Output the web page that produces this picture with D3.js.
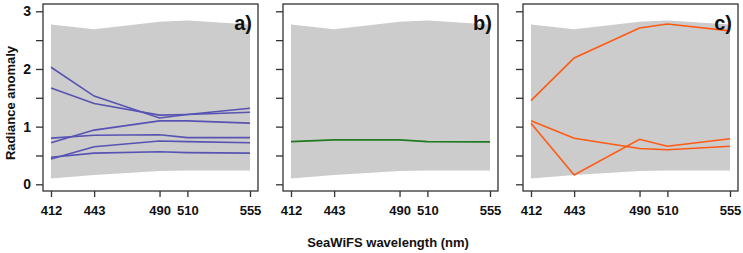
<!DOCTYPE html>
<html><head><meta charset="utf-8">
<script src="https://cdn.jsdelivr.net/npm/d3@7"></script>
<style>body{margin:0;background:#fff}svg{display:block}text{font-family:"Liberation Sans",Arial,sans-serif;font-weight:bold;fill:#111}</style>
</head><body>
<svg id="c" width="743" height="253"></svg>
<script>
const wavelengths = [412, 443, 490, 510, 555];
const envelopeTop = [2.77, 2.69, 2.82, 2.84, 2.77];
const envelopeBottom = [0.10, 0.16, 0.23, 0.24, 0.24];
const seriesA = [
  [2.03, 1.53, 1.15, 1.21, 1.32],
  [1.67, 1.40, 1.20, 1.21, 1.25],
  [0.72, 0.94, 1.10, 1.10, 1.06],
  [0.80, 0.85, 0.86, 0.81, 0.81],
  [0.44, 0.65, 0.75, 0.74, 0.72],
  [0.47, 0.54, 0.565, 0.55, 0.54]
];
const seriesB = [
  [0.74, 0.77, 0.77, 0.74, 0.735]
];
const seriesC = [
  [1.45, 2.19, 2.71, 2.78, 2.66],
  [1.10, 0.80, 0.62, 0.60, 0.66],
  [1.06, 0.16, 0.78, 0.66, 0.79]
];
const panelLabels = ["a)", "b)", "c)"];
const yTicks = [0, 0.5, 1, 1.5, 2, 2.5, 3];
const yTickLabels = [0, 1, 2, 3];

const panels = [
  {series: seriesA, color: "#5753b3", label: panelLabels[0]},
  {series: seriesB, color: "#1f7a1f", label: panelLabels[1]},
  {series: seriesC, color: "#ff5a14", label: panelLabels[2]}
];

const svg = d3.select("#c");
const boxTop = 4, boxBottom = 191, boxW = 215, step = 240, left0 = 43;
const y = d3.scaleLinear().domain([0, 3]).range([184.3, 11.3]);

panels.forEach((p, i) => {
  const bx = left0 + i * step;
  const x = d3.scaleLinear().domain([412, 555]).range([bx + 8, bx + 207]);
  const g = svg.append("g");
  const area = d3.area().x((d, j) => x(wavelengths[j])).y0((d, j) => y(envelopeBottom[j])).y1(d => y(d));
  g.append("path").datum(envelopeTop).attr("d", area).attr("fill", "#cccccc");
  const line = d3.line().x((d, j) => x(wavelengths[j])).y(d => y(d));
  p.series.forEach(s => {
    g.append("path").datum(s).attr("d", line).attr("fill", "none")
      .attr("stroke", p.color).attr("stroke-width", 1.6);
  });
  g.append("rect").attr("x", bx).attr("y", boxTop).attr("width", boxW).attr("height", boxBottom - boxTop)
    .attr("fill", "none").attr("stroke", "#333").attr("stroke-width", 1.3);
  const ya = g.append("g").attr("transform", `translate(${bx},0)`)
    .call(d3.axisLeft(y).tickValues(yTicks).tickSize(7).tickFormat(d => (i === 0 && yTickLabels.includes(d)) ? d : ""));
  ya.select(".domain").remove();
  ya.selectAll("line").attr("stroke", "#333").attr("stroke-width", 1.3);
  ya.selectAll("text").attr("font-size", 14).attr("dx", -2).style("font-family", '"Liberation Sans",Arial,sans-serif').style("font-weight", "bold").attr("fill", "#111");
  const xa = g.append("g").attr("transform", `translate(0,${boxBottom})`)
    .call(d3.axisBottom(x).tickValues(wavelengths).tickSize(6).tickFormat(d3.format("d")));
  xa.select(".domain").remove();
  xa.selectAll("line").attr("stroke", "#333").attr("stroke-width", 1.3);
  xa.selectAll("text").attr("font-size", 13).attr("dy", "1.15em").style("font-family", '"Liberation Sans",Arial,sans-serif').style("font-weight", "bold").attr("fill", "#111");
  g.append("text").attr("x", bx + boxW - 6).attr("y", 30).attr("text-anchor", "end").attr("font-size", 20).text(p.label);
});

svg.append("text").attr("transform", "translate(15,103) rotate(-90)").attr("text-anchor", "middle").attr("font-size", 13).text("Radiance anomaly");
svg.append("text").attr("x", 388).attr("y", 247).attr("text-anchor", "middle").attr("font-size", 13).text("SeaWiFS wavelength (nm)");
</script>
</body></html>
